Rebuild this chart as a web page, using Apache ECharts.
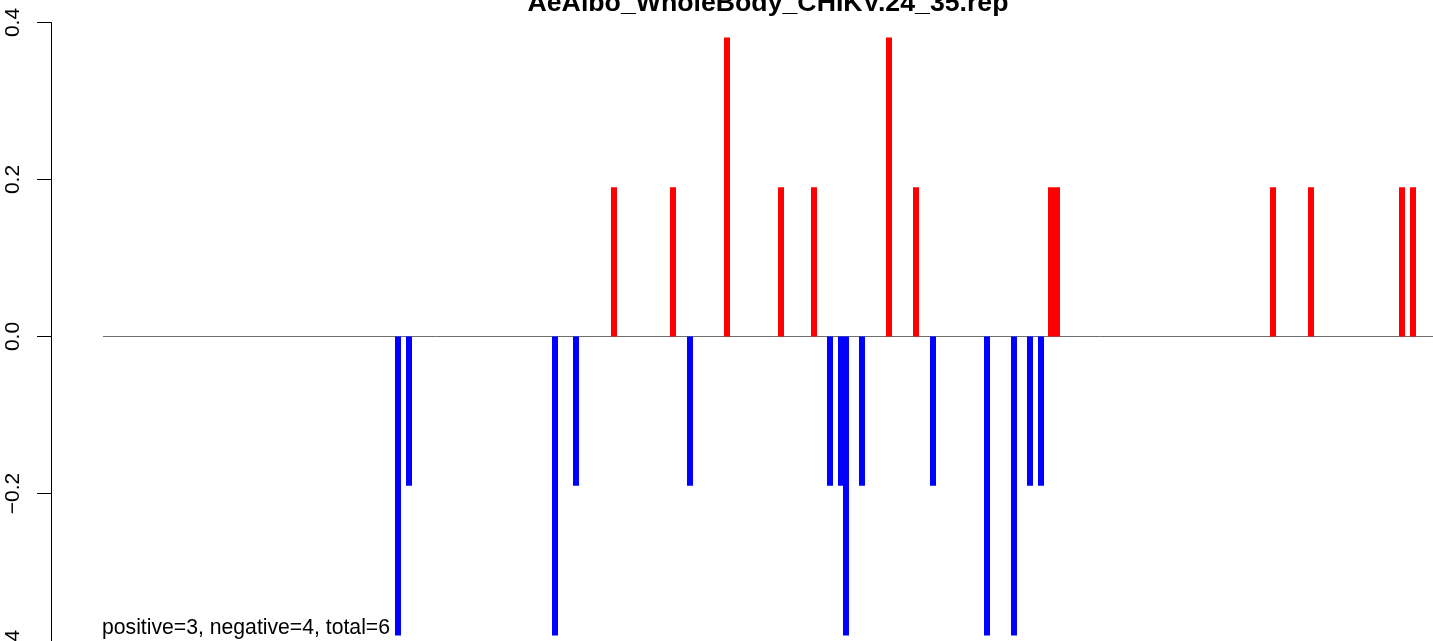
<!DOCTYPE html>
<html>
<head>
<meta charset="utf-8">
<script src="https://cdn.jsdelivr.net/npm/echarts@6/dist/echarts.min.js"></script>
<style>
html,body{margin:0;padding:0;background:#fff;}
#chart{width:1433px;height:641px;}
</style>
</head>
<body>
<div id="chart"></div>
<script>
// ---- data (positions on an arbitrary position scale) ----
const titleText = "AeAlbo_WholeBody_CHIKV.24_35.rep";
const footText = "positive=3, negative=4, total=6";
const posPositions = [563, 622, 676, 730, 763, 838, 865, 1000, 1006, 1222, 1260, 1351, 1362];
const posValues    = [0.19, 0.19, 0.381, 0.19, 0.19, 0.381, 0.19, 0.19, 0.19, 0.19, 0.19, 0.19, 0.19];
const negPositions = [347, 358, 504, 525, 639, 779, 790, 795, 811, 882, 936, 963, 979, 990];
const negValues    = [-0.381, -0.19, -0.381, -0.19, -0.19, -0.19, -0.19, -0.381, -0.19, -0.19, -0.381, -0.381, -0.19, -0.19];
const baselineRange = [52, 1382];
const yTicks = [-0.4, -0.2, 0.0, 0.2, 0.4];
const yTickLabels = ["\u22120.4", "\u22120.2", "0.0", "0.2", "0.4"];
const xRange = [0, 1382];

const chart = echarts.init(document.getElementById('chart'), null, {renderer: 'canvas'});
const FONT = '"Liberation Sans", Arial, Helvetica, sans-serif';

const option = {
  animation: false,
  backgroundColor: '#ffffff',
  grid: {left: 51, top: 22.5, width: 1382, height: 628, containLabel: false, outerBoundsMode: 'none'},
  xAxis: {
    type: 'value', min: xRange[0], max: xRange[1], show: false
  },
  yAxis: {
    type: 'value', min: yTicks[0], max: yTicks[yTicks.length - 1], interval: 0.2,
    axisLine: {show: true, lineStyle: {color: '#000', width: 1}},
    axisTick: {show: true, length: 14, lineStyle: {color: '#000', width: 1}},
    splitLine: {show: false},
    axisLabel: {
      show: true, rotate: 90, margin: 27, color: '#000', fontSize: 21, fontFamily: FONT,
      showMinLabel: true, showMaxLabel: true, hideOverlap: false,
      formatter: function (v) {
        const i = yTicks.findIndex(t => Math.abs(t - v) < 1e-9);
        return i >= 0 ? yTickLabels[i] : '';
      }
    }
  },
  series: [
    {
      type: 'line', data: [[baselineRange[0], 0], [baselineRange[1], 0]],
      symbol: 'none', lineStyle: {color: '#6e6e6e', width: 1}, z: 1, silent: true
    },
    {
      type: 'bar', data: posPositions.map((p, i) => [p, posValues[i]]),
      barWidth: 6, barGap: '-100%', itemStyle: {color: '#ff0000'}, z: 2
    },
    {
      type: 'bar', data: negPositions.map((p, i) => [p, negValues[i]]),
      barWidth: 6, barGap: '-100%', itemStyle: {color: '#0000ff'}, z: 2
    }
  ],
  graphic: [
    {
      type: 'text', x: 768, y: 3.5, z: 10,
      style: {text: titleText, font: 'bold 26.7px ' + FONT, fill: '#000', align: 'center', verticalAlign: 'middle'}
    },
    {
      type: 'text', x: 102, y: 628, z: 10,
      style: {text: footText, font: '21.2px ' + FONT, fill: '#000', align: 'left', verticalAlign: 'middle'}
    }
  ]
};
chart.setOption(option);
</script>
</body>
</html>
